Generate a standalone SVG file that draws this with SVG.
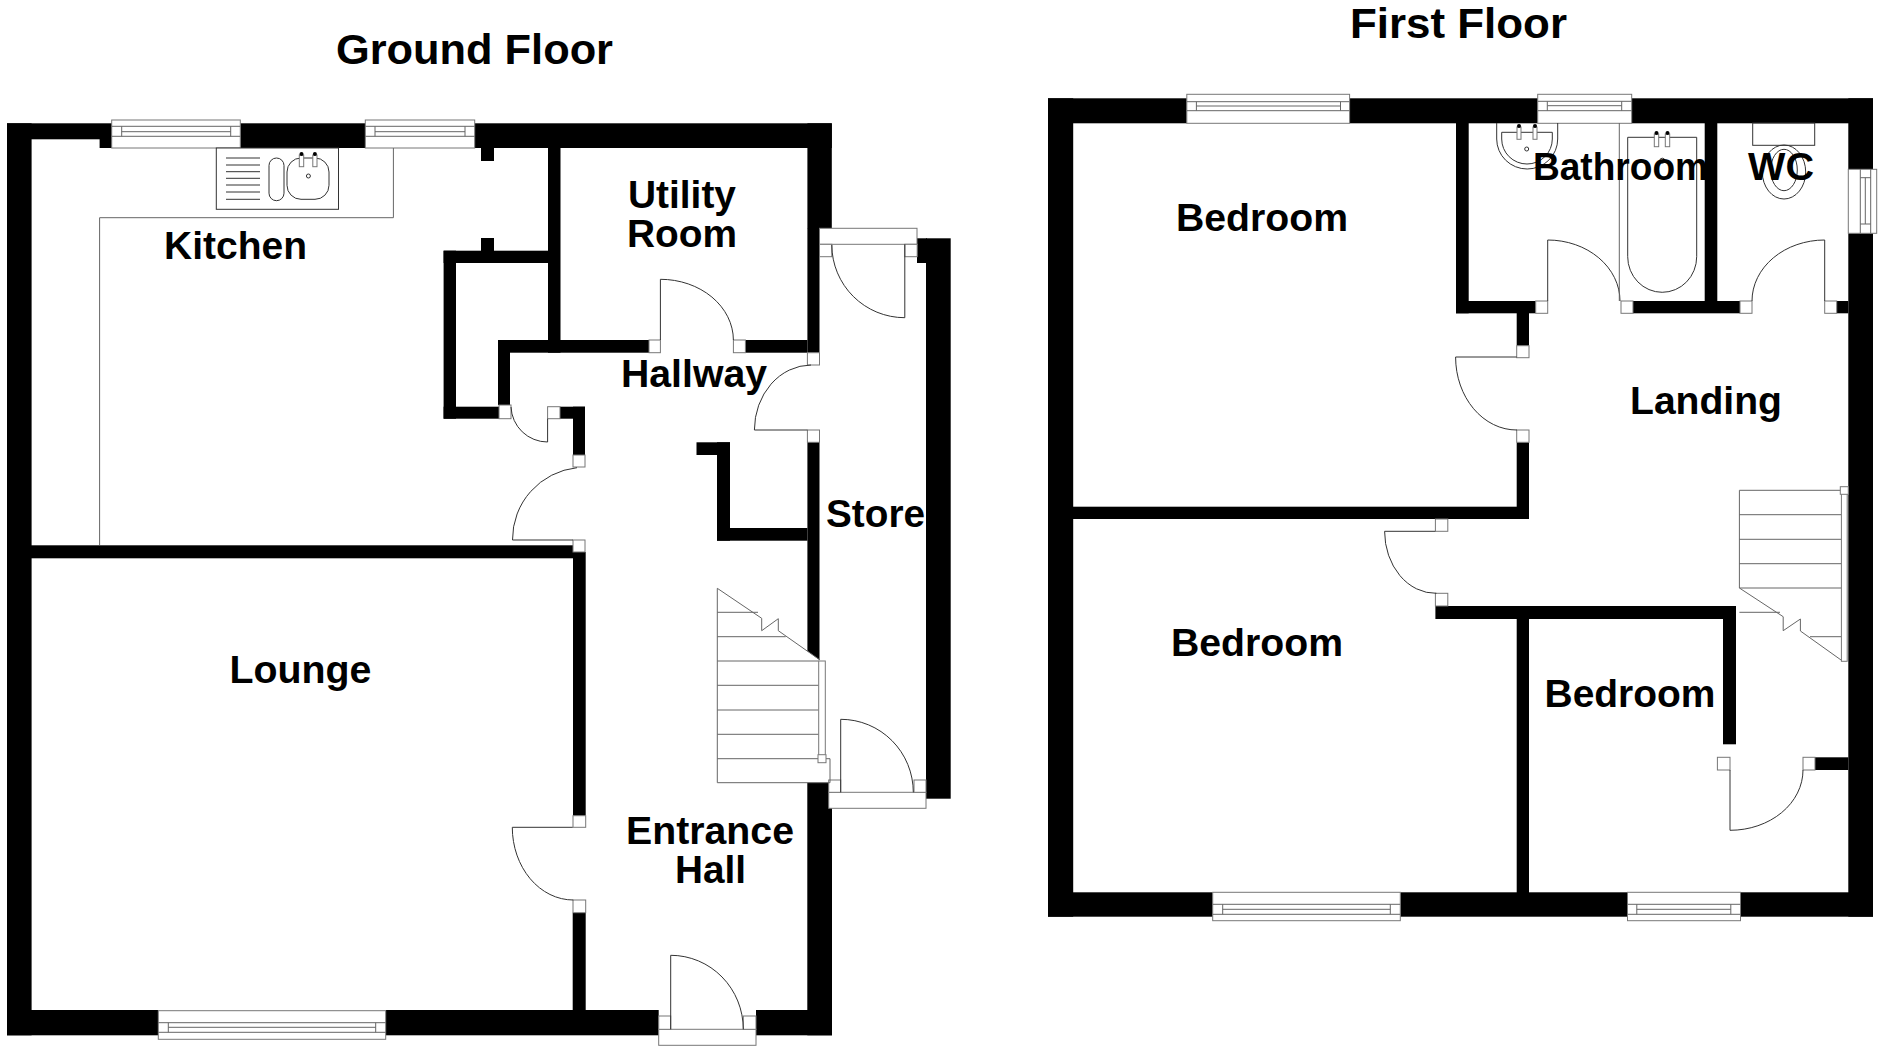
<svg xmlns="http://www.w3.org/2000/svg" width="1880" height="1049" viewBox="0 0 1880 1049">
<style>
.w{fill:#000}
.l{fill:none;stroke:#666;stroke-width:1}
.d{fill:none;stroke:#333;stroke-width:1}
.s{fill:#fff;stroke:#777;stroke-width:1}
.t{font-family:"Liberation Sans",Arial,sans-serif;font-weight:700;fill:#000;font-size:38.5px}
.h{font-family:"Liberation Sans",Arial,sans-serif;font-weight:700;fill:#000;font-size:43px}
</style>
<rect width="1880" height="1049" fill="#fff"/>
<g id="ground-floor-walls" class="w">
<rect x="7" y="123.3" width="24.6" height="912"/>
<rect x="7" y="123.3" width="105" height="16"/>
<rect x="99.6" y="139" width="12.4" height="9"/>
<rect x="240.3" y="123.3" width="125.2" height="24.7"/>
<rect x="474.5" y="123.3" width="357.3" height="24.7"/>
<rect x="481" y="148" width="13" height="13"/>
<rect x="548" y="148" width="12.5" height="204.7"/>
<rect x="443.6" y="250.7" width="104.4" height="12.3"/>
<rect x="481" y="238" width="13" height="13"/>
<rect x="443.6" y="250.7" width="12.4" height="168"/>
<rect x="443.6" y="406.7" width="55.4" height="12"/>
<rect x="498" y="340" width="12" height="65"/>
<rect x="498" y="340" width="151" height="12.7"/>
<rect x="745.4" y="340" width="62" height="12.7"/>
<rect x="807.4" y="123.3" width="24.4" height="105"/>
<rect x="807.4" y="228" width="12.1" height="124.7"/>
<rect x="560" y="406.7" width="25" height="12"/>
<rect x="573" y="406.7" width="12" height="48.3"/>
<rect x="31" y="545.3" width="542" height="13"/>
<rect x="573" y="552" width="12.7" height="263.7"/>
<rect x="572.7" y="912.7" width="13" height="100"/>
<rect x="7" y="1010" width="151.3" height="25.3"/>
<rect x="385.7" y="1010" width="273" height="25.3"/>
<rect x="756" y="1010" width="76" height="25.3"/>
<rect x="807.3" y="782.7" width="24.7" height="252.6"/>
<polygon points="807.4,442 819.5,442 819.5,660 807.4,651"/>
<rect x="696.5" y="442.3" width="33.5" height="12.7"/>
<rect x="717" y="442.3" width="13" height="98.4"/>
<rect x="717" y="528" width="90.4" height="12.7"/>
<rect x="917" y="238.3" width="10" height="24.7"/>
<rect x="926" y="238.3" width="24.7" height="560.4"/>
</g>
<g id="first-floor-walls" class="w">
<rect x="1048" y="98.3" width="25.2" height="818.4"/>
<rect x="1048" y="98.3" width="138.8" height="25"/>
<rect x="1349.6" y="98.3" width="188.1" height="25"/>
<rect x="1631.7" y="98.3" width="241.3" height="25"/>
<rect x="1848.3" y="98.3" width="24.7" height="71"/>
<rect x="1848.3" y="233.3" width="24.7" height="683.4"/>
<rect x="1048" y="892.3" width="164.7" height="24.4"/>
<rect x="1400.3" y="892.3" width="227.2" height="24.4"/>
<rect x="1740.5" y="892.3" width="132.5" height="24.4"/>
<rect x="1456" y="123" width="12.7" height="190.3"/>
<rect x="1456" y="301" width="79.7" height="12.3"/>
<rect x="1633" y="301" width="107" height="12.3"/>
<rect x="1836.7" y="301" width="11.6" height="12.3"/>
<rect x="1704.7" y="123" width="12.6" height="178"/>
<rect x="1516.7" y="313" width="12.3" height="32.7"/>
<rect x="1516.7" y="442.3" width="12.3" height="76.7"/>
<rect x="1073" y="506.7" width="456" height="12.3"/>
<rect x="1435.4" y="606" width="300.6" height="13"/>
<rect x="1723" y="606" width="13" height="138.3"/>
<rect x="1516.7" y="606" width="12.3" height="290"/>
<rect x="1815" y="757.3" width="33.3" height="12.7"/>
</g>
<g id="windows">
<g class="s">
<rect x="111.7" y="120" width="128.6" height="28"/><rect x="365.3" y="120" width="109.4" height="28"/>
<rect x="158.3" y="1010.7" width="227.4" height="28.6"/>
<rect x="1186.8" y="94.3" width="162.8" height="29"/><rect x="1537.7" y="94.3" width="94" height="29"/>
<rect x="1212.7" y="892.3" width="187.6" height="28.4"/><rect x="1627.5" y="892.3" width="113" height="28.4"/>
<rect x="1848.3" y="169.3" width="28.4" height="64"/>
</g>
<path class="l" d="M111.7 126.3H240.3M111.7 136.3H240.3M121.7 126.3V136.3M230.7 126.3V136.3M121.7 131.7H230.7
M365.3 126.3H474.7M365.3 136.3H474.7M375 126.3V136.3M465 126.3V136.3M375 131.7H465
M158.3 1022.7H385.7M158.3 1032.3H385.7M168.3 1022.7V1032.3M375.7 1022.7V1032.3M168.3 1027.3H375.7
M1186.8 101.7H1349.6M1186.8 110.7H1349.6M1196.4 101.7V110.7M1340.5 101.7V110.7M1196.4 106H1340.5
M1537.7 101.3H1631.7M1537.7 110.7H1631.7M1547.3 101.3V110.7M1621.7 101.3V110.7M1547.3 105.7H1621.7
M1212.7 904.3H1400.3M1212.7 914.3H1400.3M1222.7 904.3V914.3M1390.3 904.3V914.3M1222.7 909.3H1390.3
M1627.5 904.3H1740.5M1627.5 914.3H1740.5M1636.8 904.3V914.3M1730.8 904.3V914.3M1636.8 909.3H1730.8
M1860.3 169.3V233.3M1870.7 169.3V233.3M1860.3 177.7H1870.7M1860.3 224H1870.7M1865.3 177.7V224"/>
</g>
<g id="doors">
<g class="s">
<rect x="499" y="405" width="12" height="13.7"/><rect x="547.6" y="406.7" width="12.4" height="12"/>
<rect x="573" y="455" width="12" height="12"/><rect x="573" y="540" width="12" height="12"/>
<rect x="649" y="340" width="11.4" height="12.7"/><rect x="733.4" y="340" width="12" height="12.7"/>
<rect x="807.4" y="352.7" width="12.1" height="12.3"/><rect x="807.4" y="430" width="12.1" height="12.3"/>
<rect x="819.5" y="228.3" width="97.5" height="16"/><rect x="819.5" y="244.3" width="12.3" height="12.4"/><rect x="904.8" y="244.3" width="12.4" height="12.4"/>
<rect x="573" y="815.7" width="12.7" height="11.6"/><rect x="573" y="900" width="12.7" height="12.7"/>
<rect x="658.7" y="1029.3" width="97.3" height="16"/><rect x="658.7" y="1016" width="12" height="13.3"/><rect x="743.3" y="1016" width="12.7" height="13.3"/>
<rect x="828.7" y="792.3" width="97.3" height="16"/><rect x="828.7" y="780" width="12" height="12.3"/><rect x="914" y="780" width="12" height="12.3"/>
<rect x="1535.7" y="301" width="12" height="12.3"/><rect x="1621" y="301" width="12" height="12.3"/>
<rect x="1740" y="301" width="12" height="12.3"/><rect x="1824.7" y="301" width="12" height="12.3"/>
<rect x="1516.7" y="345.7" width="12.3" height="12"/><rect x="1516.7" y="430" width="12.3" height="12.3"/>
<rect x="1435.4" y="519" width="12.4" height="12.3"/><rect x="1435.4" y="593.3" width="12.4" height="12.7"/>
<rect x="1717.4" y="757.3" width="12.6" height="12.7"/><rect x="1803" y="757.3" width="12" height="12.7"/>
</g>
<path class="d" d="M547.6 418.7V442A36.6 36.6 0 0 1 511 407
M573 540H512.5A72 72 0 0 1 577 467.7
M660.4 340V279.3A73 61 0 0 1 733.4 340
M807.4 430H754.4A57 65 0 0 1 811 365
M904.8 244.3V317.7A73 73 0 0 1 831.8 245
M572.7 827.3H512.3A61 72.7 0 0 0 573.3 900
M670.7 1029.3V955.3A72.6 74 0 0 1 743.3 1029.3
M840.7 792.3V719.3A72.6 73 0 0 1 913.3 792.3
M1547.7 301V240A72.3 61 0 0 1 1620 301
M1824.7 301V240A72.7 61 0 0 0 1752 301
M1516.7 357H1455.6A61.1 73 0 0 0 1517 430
M1435.3 531.3H1384.6A51 62 0 0 0 1436.4 593.3
M1730 770V830.3A73 60.3 0 0 0 1803 770"/>
</g>
<g id="stairs">
<path class="l" d="M717.3 782.7V588.3L761.7 618.3V630.7L778.3 618.7V630.7L820 660
M717.3 612.3H758M717.3 636.7H785.7M717.3 661H818.7M717.3 685.3H818.7M717.3 710H818.7M717.3 734.3H818.7M717.3 758.7H818
M717.3 782.7H830V758.7H826"/>
<rect class="s" x="818.7" y="661" width="6.6" height="95"/><rect class="s" x="818" y="754.7" width="8" height="8"/>
<path class="l" d="M1841.4 490.3H1739.4V588L1783.2 616.7V630.7L1800.4 619V631L1842 660.7
M1739.4 514.7H1841.4M1739.4 539.3H1841.4M1739.4 563.7H1841.4M1739.4 588H1841.4M1739.4 612.3H1780M1810 636.7H1841.4"/>
<rect class="s" x="1841.4" y="490.3" width="5.8" height="171"/><rect class="s" x="1840.3" y="486.7" width="8" height="7.6"/>
</g>
<g id="kitchen-units">
<path class="l" d="M99.6 545V217.7H393.4V148"/>
<rect x="216.3" y="148" width="122.2" height="61.3" fill="#fff" stroke="#333"/>
<path class="d" d="M226 158H260M226 165H260M226 171.7H260M226 178.3H260M226 185H260M226 192H260M226 199.3H260"/>
<rect class="d" x="269" y="158" width="15" height="42.7" rx="7.5"/>
<rect class="d" x="287" y="158" width="42" height="41.3" rx="14"/>
<rect class="s" x="299.3" y="155" width="4.4" height="11.7"/><rect class="s" x="312.8" y="155" width="4.2" height="11.7"/>
<circle cx="301.5" cy="154" r="2"/><circle cx="314.9" cy="154" r="2"/>
<circle class="d" cx="308.4" cy="176" r="2"/>
</g>
<g id="bathroom-fixtures">
<path class="l" d="M1619.3 123V301"/>
<path class="d" d="M1627.7 137.3H1696.7V256.7A34.5 35.6 0 0 1 1627.7 256.7Z"/>
<rect class="s" x="1654.3" y="134" width="4.4" height="12.7"/><rect class="s" x="1665.3" y="134" width="4.4" height="12.7"/>
<circle cx="1656.5" cy="133" r="2"/><circle cx="1667.5" cy="133" r="2"/>
<circle class="d" cx="1662.3" cy="160.7" r="2.5"/>
<path class="d" d="M1496.7 123V139A30.5 30 0 0 0 1557.7 139V123"/>
<path class="d" d="M1501.7 132.3H1552.3V139A25.3 25 0 0 1 1501.7 139Z"/>
<rect class="s" x="1517" y="127" width="4" height="12.3"/><rect class="s" x="1533" y="127" width="4" height="12.3"/>
<circle cx="1519" cy="126" r="2"/><circle cx="1535" cy="126" r="2"/>
<circle class="d" cx="1526.7" cy="149" r="2"/>
<rect class="d" x="1752.7" y="123" width="62" height="22.3"/>
<ellipse class="d" cx="1784" cy="172" rx="21.7" ry="27"/>
<ellipse class="d" cx="1784" cy="170" rx="13.3" ry="20.7"/>
</g>
<g id="labels" lengthAdjust="spacingAndGlyphs">
<text class="h" x="336" y="64" textLength="277" lengthAdjust="spacingAndGlyphs">Ground Floor</text>
<text class="h" x="1350" y="38.3" textLength="217" lengthAdjust="spacingAndGlyphs">First Floor</text>
<text class="t" x="164" y="259.3" textLength="143" lengthAdjust="spacingAndGlyphs">Kitchen</text>
<text class="t" x="628" y="208.3" textLength="108" lengthAdjust="spacingAndGlyphs">Utility</text>
<text class="t" x="627" y="247" textLength="110" lengthAdjust="spacingAndGlyphs">Room</text>
<text class="t" x="621" y="386.7" textLength="146" lengthAdjust="spacingAndGlyphs">Hallway</text>
<text class="t" x="826" y="527.3" textLength="99" lengthAdjust="spacingAndGlyphs">Store</text>
<text class="t" x="229.5" y="683.4" textLength="142" lengthAdjust="spacingAndGlyphs">Lounge</text>
<text class="t" x="626" y="844" textLength="168" lengthAdjust="spacingAndGlyphs">Entrance</text>
<text class="t" x="675" y="883.3" textLength="71" lengthAdjust="spacingAndGlyphs">Hall</text>
<text class="t" x="1533" y="180" textLength="175" lengthAdjust="spacingAndGlyphs">Bathroom</text>
<text class="t" x="1748" y="180" textLength="66" lengthAdjust="spacingAndGlyphs">WC</text>
<text class="t" x="1176" y="230.7" textLength="172" lengthAdjust="spacingAndGlyphs">Bedroom</text>
<text class="t" x="1630" y="414.3" textLength="152" lengthAdjust="spacingAndGlyphs">Landing</text>
<text class="t" x="1171" y="656" textLength="172" lengthAdjust="spacingAndGlyphs">Bedroom</text>
<text class="t" x="1544.5" y="706.7" textLength="171" lengthAdjust="spacingAndGlyphs">Bedroom</text>
</g>
</svg>
